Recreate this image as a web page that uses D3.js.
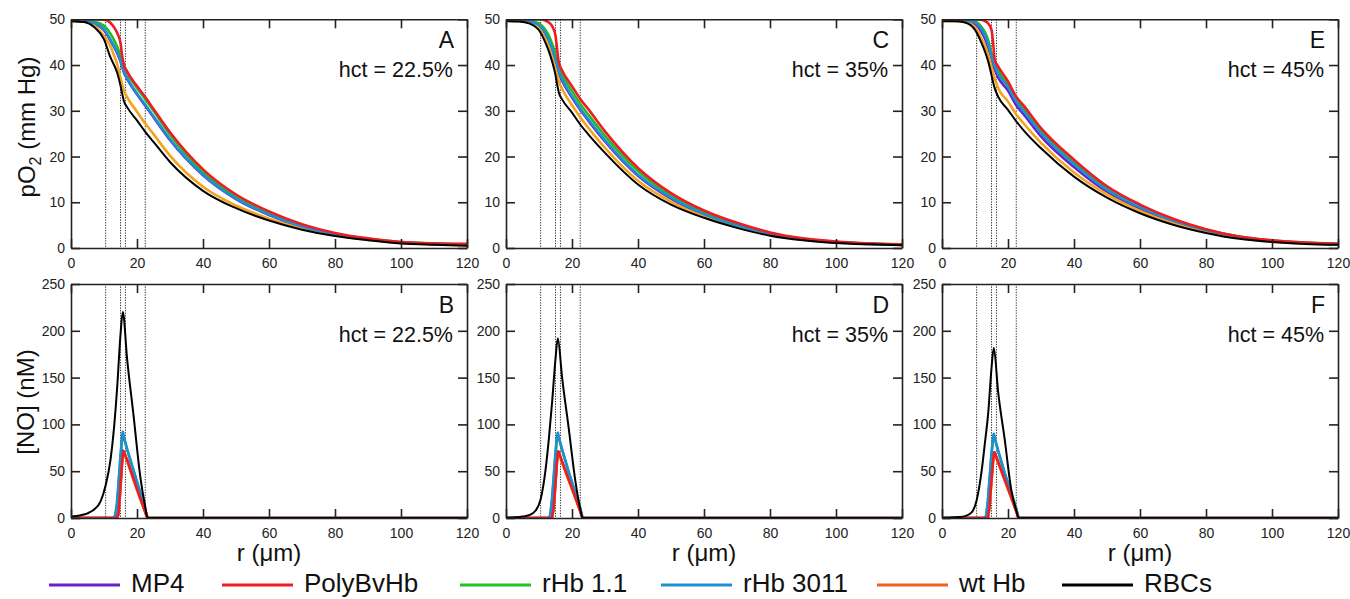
<!DOCTYPE html>
<html><head><meta charset="utf-8">
<script src="https://cdn.jsdelivr.net/npm/d3@7/dist/d3.min.js"></script>
<style>
body{margin:0;background:#fff;}
svg{display:block;font-family:"Liberation Sans",Arial,sans-serif;}
</style></head>
<body><svg id="c" width="1350" height="599"></svg>
<script>
// ---------------- DATA ----------------
const seriesNames = ["MP4","PolyBvHb","rHb 1.1","rHb 3011","wt Hb","RBCs"];
const panelLetters = [["A","B"],["C","D"],["E","F"]];
const hctLabels = ["hct = 22.5%","hct = 35%","hct = 45%"];
const xTicks = [0,20,40,60,80,100,120];
const pO2Ticks = [0,10,20,30,40,50];
const noTicks = [0,50,100,150,200,250];
const boundaryR = [10.5,15,16.5,22.5];

// radial grid for pO2 profiles
const rPO2 = [0,4,7,10,12,13,14,15,15.5,16,17,20,22.5,25,30,40,50,60,70,80,90,100,110,120];

// pO2 (mm Hg), hct = 22.5%
const pO2_A_MP4      = [49.8,49.6,49.1,47.6,45.3,44.0,42.6,40.8,39.6,38.4,37.0,33.6,31.1,28.6,23.6,15.9,10.7,7.2,4.6,2.9,1.9,1.2,0.9,0.7];
const pO2_A_PolyBvHb = [50,50,50,49.9,49.2,48.3,47.0,44.8,42.0,40.2,38.6,35.4,33.0,30.4,25.3,17.2,11.7,8.0,5.2,3.3,2.1,1.3,1.0,0.9];
const pO2_A_rHb11    = [49.9,49.8,49.5,48.6,46.8,45.5,44.0,42.0,40.8,39.8,38.3,35.0,32.5,30.0,24.8,16.6,11.2,7.6,4.9,3.1,2.0,1.3,1.0,0.8];
const pO2_A_rHb3011  = [49.8,49.6,49.2,47.8,45.5,44.2,42.8,41.0,39.8,38.6,37.2,33.8,31.3,28.8,23.8,16.0,10.8,7.3,4.7,3.0,1.9,1.2,0.9,0.7];
const pO2_A_wtHb     = [49.7,49.5,48.7,46.3,44.0,42.2,40.2,37.2,35.8,34.5,33.0,29.8,27.2,24.9,20.2,13.4,9.3,6.4,4.3,2.8,1.8,1.1,0.8,0.6];
const pO2_A_RBCs     = [49.6,49.4,48.3,45.6,41.6,40.1,38.3,35.5,33.8,32.2,30.8,27.9,25.4,23.2,18.8,12.5,8.7,6.0,4.0,2.6,1.7,1.0,0.7,0.5];
// pO2 (mm Hg), hct = 35%
const pO2_C_MP4      = [49.8,49.7,49.4,48.5,46.5,45.1,43.2,40.9,39.6,38.3,36.6,32.9,30.2,27.8,23.3,15.8,10.8,7.3,4.8,3.0,1.9,1.2,0.9,0.7];
const pO2_C_PolyBvHb = [50,50,50,50,49.7,49.3,48.5,46.4,43.4,40.6,38.8,35.4,32.6,30.3,25.5,17.5,12.0,8.2,5.5,3.4,2.1,1.4,1.0,0.8];
const pO2_C_rHb11    = [49.9,49.8,49.7,49.1,47.6,46.4,44.6,42.3,40.9,39.6,37.9,34.3,31.5,29.1,24.5,16.8,11.5,7.8,5.1,3.2,2.0,1.3,1.0,0.8];
const pO2_C_rHb3011  = [49.8,49.7,49.5,48.7,46.8,45.4,43.5,41.2,39.9,38.6,36.9,33.2,30.5,28.1,23.6,16.0,11.0,7.4,4.9,3.1,1.9,1.3,0.9,0.7];
const pO2_C_wtHb     = [49.7,49.6,49.3,48.1,45.7,44.1,42.0,39.3,37.9,36.5,34.8,31.2,28.6,26.2,21.9,14.7,10.1,6.9,4.6,2.9,1.8,1.2,0.9,0.6];
const pO2_C_RBCs     = [49.6,49.5,49.1,47.6,44.8,43.0,40.7,37.8,35.8,34.0,32.5,29.6,27.0,24.8,20.8,13.9,9.5,6.6,4.4,2.7,1.7,1.1,0.8,0.6];
// pO2 (mm Hg), hct = 45%
const pO2_E_MP4      = [49.8,49.7,49.6,49.0,47.2,45.8,43.8,41.3,40.0,39.0,37.3,34.4,31.2,29.0,24.4,17.7,12.3,8.6,5.8,3.7,2.3,1.5,1.1,0.8];
const pO2_E_PolyBvHb = [50,50,50,50,49.9,49.6,49.1,47.7,44.8,41.1,39.7,36.4,33.1,30.9,26.2,19.3,13.5,9.5,6.4,4.1,2.5,1.7,1.2,0.9];
const pO2_E_rHb11    = [49.9,49.9,49.8,49.5,48.3,47.2,45.4,42.7,41.5,40.5,38.8,35.8,32.6,30.3,25.7,18.8,13.1,9.2,6.2,4.0,2.5,1.6,1.2,0.9];
const pO2_E_rHb3011  = [49.8,49.8,49.7,49.3,47.8,46.5,44.6,42.0,40.8,39.8,38.1,35.2,32.0,29.7,25.1,18.3,12.7,8.9,6.0,3.9,2.4,1.6,1.1,0.8];
const pO2_E_wtHb     = [49.7,49.6,49.4,48.3,45.8,44.2,42.2,39.6,38.2,37.0,35.0,32.0,29.2,27.0,23.0,16.5,11.7,8.1,5.4,3.5,2.2,1.4,1.0,0.7];
const pO2_E_RBCs     = [49.6,49.6,49.3,47.7,44.8,43.0,40.8,37.8,36.2,34.9,33.1,30.2,27.7,25.5,21.8,15.6,11.0,7.6,5.1,3.3,2.0,1.3,0.9,0.7];

// [NO] (nM) profiles: radial grids
const rNO_RBC = [0,3,5,7,9,10.5,12,13,14,15,15.7,17,19,21,22.5,23.2,25,120];
const rNO_HBOC = [0,12.8,13.4,13.9,14.4,14.9,15.4,15.7,16.0,17,19,21,22.5,23.2,25,120];

// hct = 22.5%
const NO_B_RBCs     = [1.5,3,5,9,18,35,63,95,140,196,220,170,108,44,12,0,0,0];
const NO_B_MP4      = [0,0,0,0,8,32,58,72,70,62,41,21,7,0,0,0];
const NO_B_PolyBvHb = [0,0,0,0,4,28,55,68,71,62,41,21,6,0,0,0];
const NO_B_rHb11    = [0,0,2,12,34,58,82,90,86,73,50,27,9,0,0,0];
const NO_B_rHb3011  = [0,0,3,15,38,62,85,92,87,74,50,27,9,0,0,0];
const NO_B_wtHb     = [0,0,0,0,3,26,53,67,70,61,40,20,6,0,0,0];
// hct = 35%
const NO_D_RBCs     = [0.3,0.7,1.5,3,8,20,52,85,125,170,192,150,96,40,10,0,0,0];
const NO_D_MP4      = [0,0,0,0,12,34,60,71,69,60,41,22,8,0,0,0];
const NO_D_PolyBvHb = [0,0,0,0,9,32,58,69,71,60,41,22,7,0,0,0];
const NO_D_rHb11    = [0,0,2,16,38,62,84,90,86,73,49,27,10,0,0,0];
const NO_D_rHb3011  = [0,0,3,19,42,66,86,91,86,73,49,27,10,0,0,0];
const NO_D_wtHb     = [0,0,0,0,8,31,57,68,70,59,40,21,7,0,0,0];
// hct = 45%
const NO_F_RBCs     = [0.2,0.5,1,2,6,19,50,80,112,160,182,135,84,30,8,0,0,0];
const NO_F_MP4      = [0,0,0,0,14,38,60,70,69,60,41,22,8,0,0,0];
const NO_F_PolyBvHb = [0,0,0,0,12,36,58,68,70,60,41,22,7,0,0,0];
const NO_F_rHb11    = [0,0,2,16,38,62,83,89,85,72,48,26,10,0,0,0];
const NO_F_rHb3011  = [0,0,3,19,42,65,85,90,85,72,48,26,10,0,0,0];
const NO_F_wtHb     = [0,0,0,0,10,34,56,67,69,59,40,21,7,0,0,0];

// ---------------- STYLE ----------------
const curveColor = {"MP4":"#6a1fc9","PolyBvHb":"#ee1d23","rHb 1.1":"#22bb22","rHb 3011":"#1e8fd5","wt Hb":"#f5a21c","RBCs":"#000000"};
const legendColor = {"MP4":"#6a1fc9","PolyBvHb":"#ee1d23","rHb 1.1":"#22c322","rHb 3011":"#1e8fd5","wt Hb":"#f2601e","RBCs":"#000000"};
const drawOrder = ["rHb 1.1","MP4","wt Hb","rHb 3011","PolyBvHb","RBCs"];
const font = '"Liberation Sans",Arial,sans-serif';

const pO2Data = [
  {"MP4":pO2_A_MP4,"PolyBvHb":pO2_A_PolyBvHb,"rHb 1.1":pO2_A_rHb11,"rHb 3011":pO2_A_rHb3011,"wt Hb":pO2_A_wtHb,"RBCs":pO2_A_RBCs},
  {"MP4":pO2_C_MP4,"PolyBvHb":pO2_C_PolyBvHb,"rHb 1.1":pO2_C_rHb11,"rHb 3011":pO2_C_rHb3011,"wt Hb":pO2_C_wtHb,"RBCs":pO2_C_RBCs},
  {"MP4":pO2_E_MP4,"PolyBvHb":pO2_E_PolyBvHb,"rHb 1.1":pO2_E_rHb11,"rHb 3011":pO2_E_rHb3011,"wt Hb":pO2_E_wtHb,"RBCs":pO2_E_RBCs}
];
const noData = [
  {"MP4":NO_B_MP4,"PolyBvHb":NO_B_PolyBvHb,"rHb 1.1":NO_B_rHb11,"rHb 3011":NO_B_rHb3011,"wt Hb":NO_B_wtHb,"RBCs":NO_B_RBCs},
  {"MP4":NO_D_MP4,"PolyBvHb":NO_D_PolyBvHb,"rHb 1.1":NO_D_rHb11,"rHb 3011":NO_D_rHb3011,"wt Hb":NO_D_wtHb,"RBCs":NO_D_RBCs},
  {"MP4":NO_F_MP4,"PolyBvHb":NO_F_PolyBvHb,"rHb 1.1":NO_F_rHb11,"rHb 3011":NO_F_rHb3011,"wt Hb":NO_F_wtHb,"RBCs":NO_F_RBCs}
];

const svg = d3.select("#c");
const panelLeft = [71, 506, 942];
const pw = 396;
const rows = [{top:19.3, bottom:248}, {top:284, bottom:518}];
const tickLen = 9;

function drawPanel(col, row){
  const left = panelLeft[col], top = rows[row].top, bottom = rows[row].bottom;
  const x = d3.scaleLinear().domain([0,120]).range([left, left+pw]);
  const y = row===0 ? d3.scaleLinear().domain([0,50]).range([bottom, top])
                    : d3.scaleLinear().domain([0,250]).range([bottom, top]);
  const yt = row===0 ? pO2Ticks : noTicks;
  const g = svg.append("g");
  const cid = "clip"+col+"_"+row;
  svg.append("clipPath").attr("id",cid).append("rect")
     .attr("x",left).attr("y",top).attr("width",pw).attr("height",bottom-top);

  // boundaries
  g.append("g").selectAll("line").data(boundaryR).join("line")
    .attr("x1",d=>x(d)).attr("x2",d=>x(d)).attr("y1",top).attr("y2",bottom)
    .attr("stroke","#333").attr("stroke-width",1).attr("stroke-dasharray","1.3,1.3");

  // curves
  const lg = g.append("g").attr("clip-path","url(#"+cid+")");
  drawOrder.forEach(name=>{
    let rr, vals, curve;
    if(row===0){ rr = rPO2; vals = pO2Data[col][name]; curve = d3.curveMonotoneX; }
    else { rr = name==="RBCs" ? rNO_RBC : rNO_HBOC; vals = noData[col][name];
           curve = name==="RBCs" ? d3.curveMonotoneX : d3.curveLinear; }
    const pts = rr.map((r,i)=>[r, vals[i]]);
    const line = d3.line().x(d=>x(d[0])).y(d=>y(d[1])).curve(curve);
    lg.append("path").attr("d", line(pts)).attr("fill","none")
      .attr("stroke", curveColor[name])
      .attr("stroke-width", name==="RBCs" ? 2 : 2.6)
      .attr("stroke-linejoin","round");
  });

  // axes (inward ticks)
  const ax = g.append("g").attr("font-family",font);
  ax.append("g").attr("transform",`translate(0,${bottom})`)
    .call(d3.axisBottom(x).tickValues(xTicks).tickSize(-tickLen).tickSizeOuter(0).tickPadding(10));
  ax.append("g").attr("transform",`translate(0,${top})`)
    .call(d3.axisTop(x).tickValues(xTicks).tickSize(-tickLen).tickSizeOuter(0).tickFormat(""));
  ax.append("g").attr("transform",`translate(${left},0)`)
    .call(d3.axisLeft(y).tickValues(yt).tickSize(-tickLen).tickSizeOuter(0).tickPadding(6));
  ax.append("g").attr("transform",`translate(${left+pw},0)`)
    .call(d3.axisRight(y).tickValues(yt).tickSize(-tickLen).tickSizeOuter(0).tickFormat(""));
  ax.selectAll(".domain").attr("stroke","#222").attr("stroke-width",1.6);
  ax.selectAll(".tick line").attr("stroke","#222").attr("stroke-width",1.6);
  ax.selectAll("text").attr("font-size",14).attr("fill","#222").attr("font-family",font);

  // labels
  g.append("text").attr("x",left+pw-13).attr("y",top+29).attr("text-anchor","end")
    .attr("font-size",23).attr("fill","#111").text(panelLetters[col][row]);
  g.append("text").attr("x",left+pw-14).attr("y",top+58).attr("text-anchor","end")
    .attr("font-size",21.5).attr("fill","#111").text(hctLabels[col]);

  if(row===1){
    g.append("text").attr("x",left+pw/2).attr("y",561).attr("text-anchor","middle")
      .attr("font-size",24).attr("fill","#111").text("r (μm)");
  }
}
for(let c=0;c<3;c++){ for(let r=0;r<2;r++) drawPanel(c,r); }

// y-axis titles
const t1 = svg.append("text").attr("transform","translate(35,127) rotate(-90)")
  .attr("text-anchor","middle").attr("font-size",24).attr("fill","#111");
t1.append("tspan").text("pO");
t1.append("tspan").attr("font-size",16).attr("dy",6).text("2");
t1.append("tspan").attr("dy",-6).text(" (mm Hg)");
svg.append("text").attr("transform","translate(34,402) rotate(-90)")
  .attr("text-anchor","middle").attr("font-size",24).attr("fill","#111").text("[NO] (nM)");

// legend
const legendX = [49, 222, 460, 661, 877, 1062];
const lgd = svg.append("g");
seriesNames.forEach((name,i)=>{
  const lx = legendX[i];
  lgd.append("line").attr("x1",lx).attr("x2",lx+71).attr("y1",585).attr("y2",585)
    .attr("stroke",legendColor[name]).attr("stroke-width",3);
  lgd.append("text").attr("x",lx+82).attr("y",592)
    .attr("font-size",26).attr("fill","#111").text(name);
});
</script></body></html>
